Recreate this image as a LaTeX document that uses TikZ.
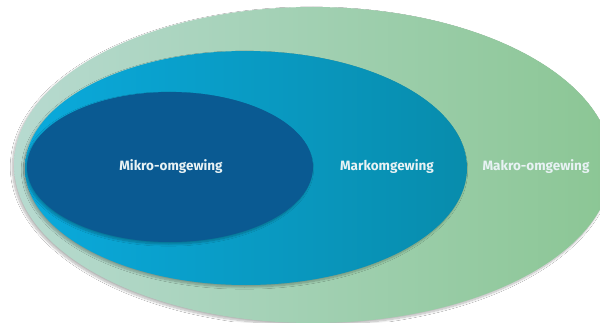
\documentclass[tikz,border=0pt]{standalone}
\usepackage{fontspec}
\setmainfont{Fira Sans}
\usepackage{xcolor}
\usepackage{tikz}
\usetikzlibrary{shapes.geometric, shadows.blur, positioning}
\definecolor{makroleft}{RGB}{183, 218, 208}
\definecolor{makroright}{RGB}{139, 198, 148}
\definecolor{markoleft}{RGB}{10, 170, 220}
\definecolor{markoright}{RGB}{8, 140, 172}
\definecolor{mikrofill}{RGB}{10, 90, 146}
\definecolor{labeltext}{RGB}{232, 242, 244}

\begin{document}
\begin{tikzpicture}[x=1pt, y=1pt,
        ring/.style={ellipse, inner sep=0pt, draw=none,
            blur shadow={shadow blur steps=12, shadow xshift=-1.5pt, shadow yshift=-2pt, shadow opacity=30}},
        ringlabel/.style={text=labeltext, font=\bfseries\fontsize{13.5}{16}\selectfont}]
        \useasboundingbox (0,0) rectangle (600,322);
        \fill[white] (0,0) rectangle (600,322);
        % outer, middle and inner environment
        \node[ring, minimum width=598pt, minimum height=316pt, left color=makroleft, right color=makroright] (makro) at (313,157) {};
        \node[ring, minimum width=442pt, minimum height=234pt, left color=markoleft, right color=markoright] (marko) at (246,154) {};
        \node[ring, minimum width=286pt, minimum height=150pt, fill=mikrofill] (mikro) at (170,155) {};
        % labels
        \node[ringlabel] (mikrolabel) at (171,155) {Mikro-omgewing};
        \node[ringlabel] (markolabel) at (387,155) {Markomgewing};
        \node[ringlabel] (makrolabel) at (536,155) {Makro-omgewing};
    \end{tikzpicture}
\end{document}
